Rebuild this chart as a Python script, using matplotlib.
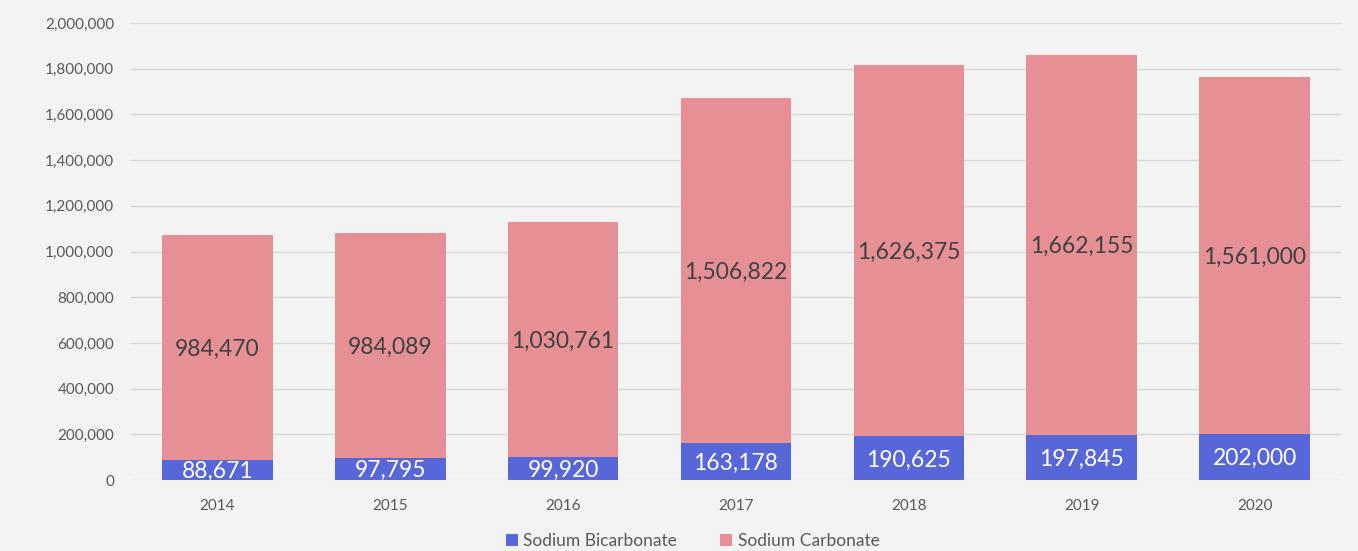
import numpy as np
import matplotlib.pyplot as plt
from matplotlib.ticker import FuncFormatter

years = ['2014', '2015', '2016', '2017', '2018', '2019', '2020']
bicarbonate = [88671, 97795, 99920, 163178, 190625, 197845, 202000]
carbonate = [984470, 984089, 1030761, 1506822, 1626375, 1662155, 1561000]

blue = '#5767da'
pink = '#e69095'
bg = '#f3f3f3'

plt.rcParams['font.family'] = ['Lato', 'DejaVu Sans']

fig = plt.figure(figsize=(13.58, 5.51), dpi=100, facecolor=bg)
ax = fig.add_axes([131/1358, 1-480/551, 1210/1358, 457/551], facecolor=bg)

x = np.arange(len(years))
w = 0.64
b1 = ax.bar(x, bicarbonate, w, color=blue, label='Sodium Bicarbonate', zorder=3)
b2 = ax.bar(x, carbonate, w, bottom=bicarbonate, color=pink, label='Sodium Carbonate', zorder=3)

for i in range(len(years)):
    ax.text(x[i], bicarbonate[i] / 2 - 8000, f'{bicarbonate[i]:,}', ha='center', va='center',
            color='white', fontsize=16.5, zorder=4)
    ax.text(x[i], bicarbonate[i] + carbonate[i] / 2 - 8000, f'{carbonate[i]:,}', ha='center', va='center',
            color='#404040', fontsize=16.5, zorder=4)

ax.set_xlim(-0.5, len(years) - 0.5)
ax.set_ylim(0, 2000000)
ax.set_yticks(np.arange(0, 2000001, 200000))
ax.yaxis.set_major_formatter(FuncFormatter(lambda v, p: f'{int(v):,}'))
ax.set_xticks(x)
ax.set_xticklabels(years)
ax.tick_params(length=0, labelsize=11, labelcolor='#595959')
ax.tick_params(axis='x', pad=14)
ax.tick_params(axis='y', pad=12)
ax.grid(axis='y', color='#d9d9d9', linewidth=1, zorder=0)
for s in ax.spines.values():
    s.set_visible(False)

leg = fig.legend(handles=[b1, b2], loc='lower center', bbox_to_anchor=(0.51, -0.025), ncol=2,
                 frameon=False, fontsize=12.5, handlelength=0.7, handleheight=0.7,
                 handletextpad=0.3, columnspacing=2.5)
for t in leg.get_texts():
    t.set_color('#595959')

fig.savefig('out.png', dpi=100, facecolor=bg)
